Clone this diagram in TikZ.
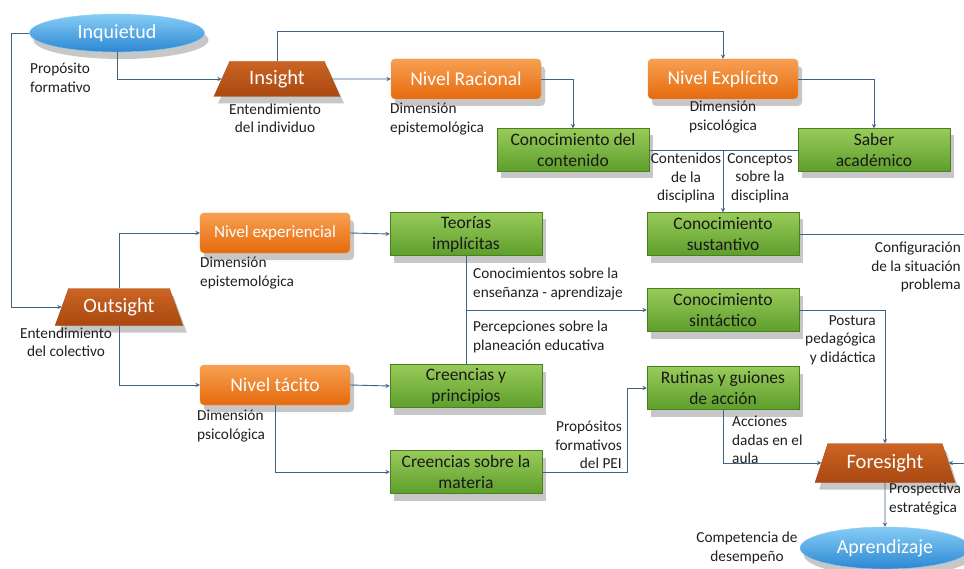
\documentclass[tikz,border=0pt]{standalone}
\usepackage{fontspec}
\setmainfont{Carlito}
\usetikzlibrary{shapes.geometric,shadows}
\usepackage{xcolor}

\definecolor{linea}{HTML}{3F6285}
\definecolor{naranjaClaro}{HTML}{F7A052}
\definecolor{naranjaOscuro}{HTML}{E66A0C}
\definecolor{naranjaBorde}{HTML}{EE9A40}
\definecolor{verdeClaro}{HTML}{98CB5A}
\definecolor{verdeOscuro}{HTML}{5E9E2B}
\definecolor{verdeBorde}{HTML}{4A7F22}
\definecolor{cafeClaro}{HTML}{CC6423}
\definecolor{cafeOscuro}{HTML}{A94810}
\definecolor{azulClaro}{HTML}{86CDF6}
\definecolor{azulOscuro}{HTML}{2C87D2}

\begin{document}
\begin{tikzpicture}[x=1bp,y=-1bp,
    sombra/.style={drop shadow={shadow xshift=4bp,shadow yshift=-7bp,opacity=0.22,fill=black}},
    elipse/.style={ellipse,sombra,top color=azulClaro,bottom color=azulOscuro,draw=azulClaro,
        text=white,inner sep=0pt,minimum width=175bp,minimum height=38bp,font=\fontsize{20bp}{22bp}\selectfont},
    trapecio/.style={trapezium,trapezium angle=67,trapezium stretches=true,sombra,
        top color=cafeClaro,bottom color=cafeOscuro,draw=cafeOscuro,text=white,
        minimum width=127bp,minimum height=35bp,font=\fontsize{20.5bp}{22bp}\selectfont},
    naranja/.style={rectangle,rounded corners=4bp,sombra,top color=naranjaClaro,bottom color=naranjaOscuro,
        draw=naranjaBorde,text=white,minimum width=150bp,minimum height=40bp,font=\fontsize{19.5bp}{21bp}\selectfont},
    verde/.style={rectangle,sombra,top color=verdeClaro,bottom color=verdeOscuro,draw=verdeBorde,
        text=black!90,align=center,minimum width=152bp,minimum height=43bp,inner sep=1bp,
        font=\fontsize{17.5bp}{21bp}\selectfont},
    etiqueta/.style={inner sep=0pt,text=black!88,font=\fontsize{15.3bp}{18.5bp}\selectfont},
    flecha/.style={draw=linea,line width=0.9bp,-stealth},
    trazo/.style={draw=linea,line width=0.9bp}]

    % Margenes del dibujo
    \useasboundingbox (0,0) rectangle (964,569);

    % Elipses de inicio y de llegada
    \node[elipse] (inquietud) at (117,33) {Inquietud};
    \node[elipse,minimum width=170bp,minimum height=42bp] (aprendizaje) at (885,548) {Aprendizaje};

    % Trapecios: insight, outsight y foresight
    \node[trapecio] (insight) at (277,79) {Insight};
    \node[trapecio,minimum width=128bp,minimum height=37bp] (outsight) at (119,307) {Outsight};
    \node[trapecio,minimum width=140bp,minimum height=39bp,trapezium angle=69] (foresight) at (885,463) {Foresight};

    % Niveles (cajas naranjas)
    \node[naranja] (racional) at (466,79) {Nivel Racional};
    \node[naranja] (explicito) at (723,79) {Nivel Explícito};
    \node[naranja,font=\fontsize{17bp}{21bp}\selectfont] (experiencial) at (275,233) {Nivel experiencial};
    \node[naranja] (tacito) at (275,385) {Nivel tácito};

    % Conocimientos (cajas verdes)
    \node[verde] (contenido) at (573,150) {Conocimiento del\\contenido};
    \node[verde] (saber) at (874,150) {Saber\\académico};
    \node[verde] (sustantivo) at (723,234) {Conocimiento\\sustantivo};
    \node[verde] (sintactico) at (723,310) {Conocimiento\\sintáctico};
    \node[verde] (rutinas) at (723,388) {Rutinas y guiones\\de acción};
    \node[verde] (teorias) at (466,234) {Teorías\\implícitas};
    \node[verde] (creencias) at (466,386) {Creencias y\\principios};
    \node[verde] (materia) at (466,472) {Creencias sobre la\\materia};

    % Textos sueltos
    \node[etiqueta,anchor=west,align=left] (proposito) at (30,78) {Propósito\\formativo};
    \node[etiqueta,align=center] (individuo) at (275,118) {Entendimiento\\del individuo};
    \node[etiqueta,anchor=west,align=left] (dimRacional) at (390,119) {Dimensión\\epistemológica};
    \node[etiqueta,align=center] (dimExplicito) at (723,117) {Dimensión\\psicológica};
    \node[etiqueta,align=center] (contDisciplina) at (686,178) {Contenidos\\de la\\disciplina};
    \node[etiqueta,align=center] (concDisciplina) at (760,178) {Conceptos\\sobre la\\disciplina};
    \node[etiqueta,anchor=east,align=right] (configuracion) at (961,267) {Configuración\\de la situación\\problema};
    \node[etiqueta,anchor=east,align=right] (postura) at (876,340) {Postura\\pedagógica\\y didáctica};
    \node[etiqueta,anchor=west,align=left] (ensenanza) at (473,284) {Conocimientos sobre la\\enseñanza - aprendizaje};
    \node[etiqueta,anchor=west,align=left] (planeacion) at (473,337) {Percepciones sobre la\\planeación educativa};
    \node[etiqueta,anchor=west,align=left] (dimExperiencial) at (200,273) {Dimensión\\epistemológica};
    \node[etiqueta,align=center] (colectivo) at (66,342) {Entendimiento\\del colectivo};
    \node[etiqueta,anchor=west,align=left] (dimTacito) at (197,426) {Dimensión\\psicológica};
    \node[etiqueta,anchor=east,align=right] (propositosPEI) at (622,445) {Propósitos\\formativos\\del PEI};
    \node[etiqueta,anchor=west,align=left] (acciones) at (732,440) {Acciones\\dadas en el\\aula};
    \node[etiqueta,anchor=west,align=left] (prospectiva) at (889,499) {Prospectiva\\estratégica};
    \node[etiqueta,align=center] (competencia) at (747,548) {Competencia de\\desempeño};

    % Conexiones de la parte de arriba
    \draw[flecha] (inquietud.south) |- (insight.west);
    \draw[flecha] (inquietud.west) -- ++(-18,0) |- (outsight.west);
    \draw[flecha] (insight.north) -- ++(0,-30) -| (explicito.north);
    \draw[flecha] (insight.east) -- (racional.west);
    \draw[flecha] (racional.east) -| (contenido.north);
    \draw[flecha] (explicito.east) -| (saber.north);
    \draw[trazo] (contenido.east) -- (saber.west);
    \draw[flecha] (sustantivo.north |- contenido.east) -- (sustantivo.north);

    % Conocimiento sustantivo sale por la derecha y llega a foresight
    \coordinate (bordeDer) at (980,234);
    \draw[flecha] (sustantivo.east) -- (bordeDer) |- (foresight.east);
    \draw[flecha] (sintactico.east) -| (foresight.north);
    \draw[flecha] (rutinas.south) |- (foresight.west);
    \draw[flecha] (foresight.south) -- (aprendizaje.north);

    % Conexiones de outsight
    \draw[flecha] (outsight.north) |- (experiencial.west);
    \draw[flecha] (outsight.south) |- (tacito.west);
    \draw[flecha] (experiencial.east) -- (teorias.west);
    \draw[flecha] (tacito.east) -- (creencias.west);
    \draw[trazo] (teorias.south) -- (creencias.north);
    \draw[flecha] (teorias.south |- sintactico.west) -- (sintactico.west);
    \draw[flecha] (tacito.south) |- (materia.west);
    \draw[flecha] (materia.east) -- ++(85,0) |- (rutinas.west);

\end{tikzpicture}
\end{document}
